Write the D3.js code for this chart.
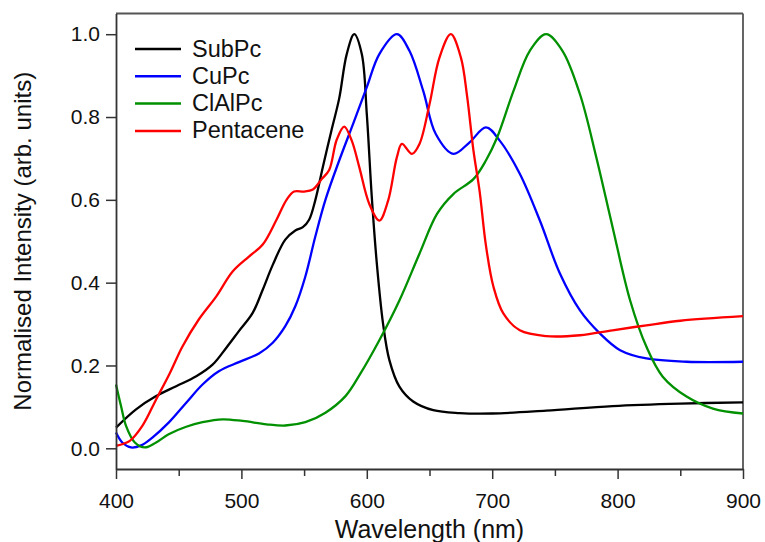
<!DOCTYPE html>
<html lang="en">
<head>
    <meta charset="UTF-8">
    <title>Normalised absorption spectra</title>
    <script src="https://d3js.org/d3.v7.min.js"></script>
    <style>
        body {
            margin: 0;
            background: #fff;
            font-family: Arial, "Liberation Sans", sans-serif;
        }
        svg {
            display: block;
        }
        .tick text {
            font-family: Arial, "Liberation Sans", sans-serif;
            font-size: 21px;
            fill: #111;
        }
    </style>
</head>
<body>
    <svg></svg>

    <script>
        // SubPc
        const subpcWl = [400, 416, 432, 448, 464, 477, 488, 498, 509, 517, 525, 535, 543, 549, 554, 559, 565, 572, 578, 584, 590, 596, 600, 604, 608, 613, 618, 626, 637, 653, 674, 700, 743, 796, 850, 900];
        const subpcI  = [0.05, 0.094, 0.126, 0.15, 0.174, 0.202, 0.243, 0.283, 0.327, 0.383, 0.443, 0.504, 0.526, 0.534, 0.552, 0.60, 0.68, 0.77, 0.845, 0.952, 1.0, 0.952, 0.807, 0.606, 0.446, 0.30, 0.213, 0.149, 0.113, 0.092, 0.085, 0.084, 0.091, 0.102, 0.108, 0.111];

        // CuPc
        const cupcWl = [400, 405, 412, 420, 429, 442, 456, 469, 482, 498, 514, 525, 535, 543, 551, 559, 567, 578, 589, 600, 610, 624, 634, 645, 655, 669, 682, 695, 706, 722, 738, 754, 770, 786, 802, 823, 855, 900];
        const cupcI  = [0.038, 0.014, 0.002, 0.007, 0.026, 0.062, 0.11, 0.154, 0.186, 0.208, 0.229, 0.255, 0.295, 0.343, 0.415, 0.512, 0.60, 0.695, 0.783, 0.872, 0.952, 1.0, 0.96, 0.863, 0.759, 0.711, 0.739, 0.775, 0.743, 0.663, 0.55, 0.422, 0.333, 0.277, 0.237, 0.217, 0.209, 0.209];

        // ClAlPc
        const clalpcWl = [400, 404, 408, 415, 423, 432, 442, 456, 469, 485, 501, 520, 535, 551, 567, 583, 595, 610, 626, 642, 656, 669, 685, 695, 704, 717, 730, 743, 756, 770, 783, 796, 810, 823, 836, 855, 876, 900];
        const clalpcI  = [0.154, 0.102, 0.054, 0.014, 0.002, 0.014, 0.034, 0.052, 0.063, 0.07, 0.066, 0.058, 0.055, 0.063, 0.086, 0.126, 0.181, 0.261, 0.357, 0.47, 0.566, 0.614, 0.65, 0.695, 0.751, 0.863, 0.96, 1.0, 0.96, 0.855, 0.703, 0.534, 0.357, 0.245, 0.173, 0.125, 0.096, 0.084];

        // Pentacene
        const pentWl = [400, 411, 421, 432, 443, 453, 466, 480, 493, 506, 517, 528, 536, 542, 550, 557, 564, 570, 576, 582, 588, 594, 602, 610, 617, 624, 628, 636, 642, 650, 658, 667, 675, 680, 685, 690, 695, 701, 709, 722, 743, 770, 796, 823, 850, 900];
        const pentI  = [0.006, 0.018, 0.054, 0.118, 0.182, 0.246, 0.311, 0.367, 0.427, 0.463, 0.492, 0.552, 0.60, 0.62, 0.62, 0.625, 0.65, 0.672, 0.745, 0.777, 0.743, 0.679, 0.59, 0.55, 0.598, 0.703, 0.735, 0.711, 0.735, 0.831, 0.944, 1.0, 0.944, 0.85, 0.72, 0.62, 0.49, 0.39, 0.325, 0.285, 0.271, 0.273, 0.285, 0.297, 0.308, 0.319];

        const seriesNames  = ["SubPc", "CuPc", "ClAlPc", "Pentacene"];
        const seriesColors = ["#000000", "#0000ff", "#009000", "#ff0000"];
        const seriesWl = [subpcWl, cupcWl, clalpcWl, pentWl];
        const seriesI  = [subpcI, cupcI, clalpcI, pentI];

        const xTicks = [400, 500, 600, 700, 800, 900];
        const xMinorTicks = [450, 550, 650, 750, 850];
        const yTicks = [0.0, 0.2, 0.4, 0.6, 0.8, 1.0];

        const W = 765, H = 542;
        const margin = {top: 13.5, right: 22, bottom: 73, left: 116};
        const width = W - margin.left - margin.right;
        const height = H - margin.top - margin.bottom;

        const svg = d3.select("svg")
            .attr("width", W)
            .attr("height", H);

        const g = svg.append("g")
            .attr("transform", `translate(${margin.left},${margin.top})`);

        const x = d3.scaleLinear().domain([400, 900]).range([0, width]);
        const y = d3.scaleLinear().domain([-0.05, 1.05]).range([height, 0]);

        // frame: top and right
        g.append("line")
            .attr("x1", 0).attr("x2", width)
            .attr("y1", 0).attr("y2", 0)
            .attr("stroke", "#555").attr("stroke-width", 1.8);
        g.append("line")
            .attr("x1", width).attr("x2", width)
            .attr("y1", 0).attr("y2", height)
            .attr("stroke", "#555").attr("stroke-width", 1.8);

        // curves
        const line = d3.line()
            .x(d => x(d[0]))
            .y(d => y(d[1]))
            .curve(d3.curveCatmullRom.alpha(0.5));

        seriesNames.forEach((name, i) => {
            const pts = seriesWl[i].map((w, j) => [w, seriesI[i][j]]);
            g.append("path")
                .datum(pts)
                .attr("fill", "none")
                .attr("stroke", seriesColors[i])
                .attr("stroke-width", 2.3)
                .attr("stroke-linejoin", "round")
                .attr("d", line);
        });

        // minor x ticks
        g.append("g")
            .attr("transform", `translate(0,${height})`)
            .call(d3.axisBottom(x).tickValues(xMinorTicks).tickSize(7).tickFormat(""))
            .call(a => a.select(".domain").remove())
            .call(a => a.selectAll("line").attr("stroke", "#333").attr("stroke-width", 1.5));

        // x axis
        g.append("g")
            .attr("transform", `translate(0,${height})`)
            .call(d3.axisBottom(x).tickValues(xTicks).tickSize(10).tickSizeOuter(0).tickPadding(14).tickFormat(d3.format("d")))
            .call(a => a.select(".domain").attr("stroke", "#333").attr("stroke-width", 1.8))
            .call(a => a.selectAll(".tick line").attr("stroke", "#333").attr("stroke-width", 1.5));

        // y axis
        g.append("g")
            .call(d3.axisLeft(y).tickValues(yTicks).tickSize(10).tickSizeOuter(0).tickPadding(6).tickFormat(d3.format(".1f")))
            .call(a => a.select(".domain").attr("stroke", "#333").attr("stroke-width", 1.8))
            .call(a => a.selectAll(".tick line").attr("stroke", "#333").attr("stroke-width", 1.5));

        // axis titles
        svg.append("text")
            .attr("x", margin.left + width / 2)
            .attr("y", 538)
            .attr("text-anchor", "middle")
            .attr("font-size", 25)
            .attr("fill", "#111")
            .text("Wavelength (nm)");

        svg.append("text")
            .attr("transform", `translate(31,${margin.top + height / 2}) rotate(-90)`)
            .attr("text-anchor", "middle")
            .attr("font-size", 24)
            .attr("fill", "#111")
            .text("Normalised Intensity (arb. units)");

        // legend
        const legend = svg.append("g").attr("transform", "translate(135,49)");
        seriesNames.forEach((name, i) => {
            const row = legend.append("g").attr("transform", `translate(0,${i * 27.3})`);
            row.append("line")
                .attr("x1", 0).attr("x2", 46)
                .attr("y1", 0).attr("y2", 0)
                .attr("stroke", seriesColors[i])
                .attr("stroke-width", 2.5);
            row.append("text")
                .attr("x", 57)
                .attr("y", 7.5)
                .attr("font-size", 23.5)
                .attr("fill", "#111")
                .text(name);
        });
    </script>
</body>
</html>
